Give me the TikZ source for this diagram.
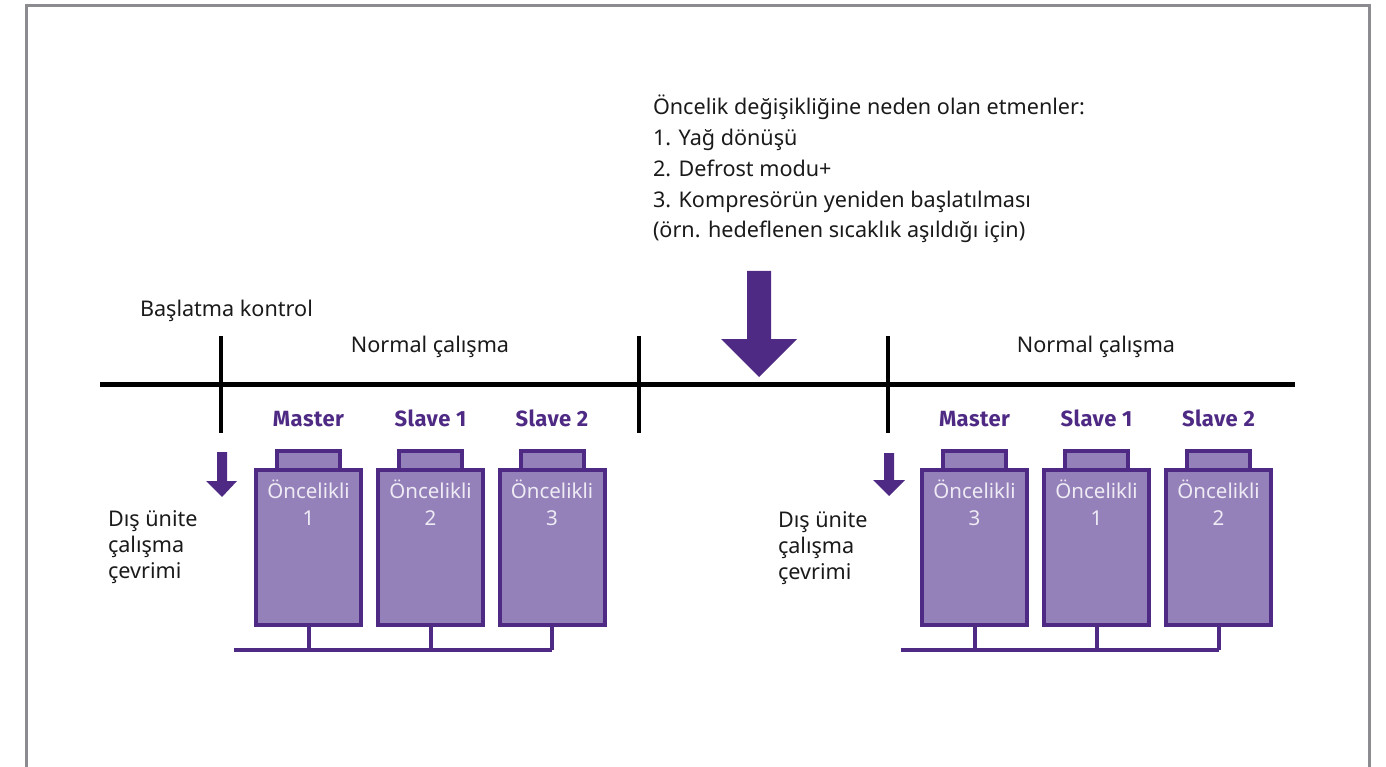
\documentclass[tikz,border=0pt]{standalone}
\usepackage{fontspec}
\setmainfont{Noto Sans}
\newfontfamily\rolefont{Fira Sans}[LetterSpace=2]
\definecolor{pdark}{HTML}{4E2A84}
\definecolor{pfill}{HTML}{9581B9}
\definecolor{framegray}{HTML}{8C8C90}
\definecolor{txt}{HTML}{1A1A1A}
\definecolor{wtxt}{HTML}{EEEBF5}
\begin{document}
\begin{tikzpicture}[x=1pt,y=-1pt,
  every node/.style={inner sep=0pt, outer sep=0pt},
  plain/.style={text=txt, font=\fontsize{21.6}{26}\selectfont},
  role/.style={text=pdark, font=\rolefont\bfseries\fontsize{22}{26}\selectfont, anchor=base},
  prio/.style={text=wtxt, font=\fontsize{20.5}{27}\selectfont, anchor=base},
  unitbody/.style={draw=pdark, fill=pfill, line width=4pt, minimum width=105pt, minimum height=155pt},
  unitcap/.style={draw=pdark, fill=pfill, line width=4pt},
  pipe/.style={draw=pdark, line width=4pt},
  tick/.style={draw=black, line width=4pt}
]
\useasboundingbox (0,0) rectangle (1386,767);
\draw[framegray, line width=3pt] (26,767) -- (26,6) -- (1369,6) -- (1369,767);

% top text
\node[plain, anchor=base west] (causes) at (653,115) {Öncelik değişikliğine neden olan etmenler:};
\node[plain, anchor=base west] (c1) at (653,145.7) {1. Yağ dönüşü};
\node[plain, anchor=base west] (c2) at (653,176.4) {2. Defrost modu+};
\node[plain, anchor=base west] (c3) at (653,207.1) {3. Kompresörün yeniden başlatılması};
\node[plain, anchor=base west] (c4) at (653,237.8) {(örn. hedeflenen sıcaklık aşıldığı için)};

% big arrow
\fill[pdark] (747,271) -- (771,271) -- (771,339) -- (797,339) -- (759,377) -- (721,339) -- (747,339) -- cycle;

% timeline
\coordinate (tlL) at (100,384);
\coordinate (tlR) at (1295,384);
\draw[black, line width=5pt] (tlL) -- (tlR);
\coordinate (k1a) at (221,336); \coordinate (k1b) at (221,433);
\coordinate (k2a) at (639,336); \coordinate (k2b) at (639,433);
\coordinate (k3a) at (888,336); \coordinate (k3b) at (888,433);
\draw[tick] (k1a) -- (k1b);
\draw[tick] (k2a) -- (k2b);
\draw[tick] (k3a) -- (k3b);

\node[plain, anchor=base west] (start) at (140,316) {Başlatma kontrol};
\node[plain, anchor=base] (norm1) at (430,352) {Normal çalışma};
\node[plain, anchor=base] (norm2) at (1096,352) {Normal çalışma};

% small arrows
\fill[pdark] (217,452) -- (227,452) -- (227,481) -- (237,481) -- (222,497) -- (206,481) -- (217,481) -- cycle;
\fill[pdark] (884,453) -- (894,453) -- (894,480) -- (905,480) -- (889,496) -- (873,480) -- (884,480) -- cycle;

\node[plain, anchor=base west] (cycLa) at (108,526) {Dış ünite};
\node[plain, anchor=base west] (cycLb) at (108,552) {çalışma};
\node[plain, anchor=base west] (cycLc) at (108,578) {çevrimi};
\node[plain, anchor=base west] (cycRa) at (778,527) {Dış ünite};
\node[plain, anchor=base west] (cycRb) at (778,553) {çalışma};
\node[plain, anchor=base west] (cycRc) at (778,579) {çevrimi};

% units
\foreach \n/\cx/\r/\p in {L1/308.5/Master/1, L2/430.5/Slave 1/2, L3/552/Slave 2/3,
                          R1/974.5/Master/3, R2/1096.5/Slave 1/1, R3/1218.5/Slave 2/2}{
  \node[role] (role\n) at (\cx,426) {\r};
  \draw[unitcap] (\cx-31.5,451) rectangle (\cx+31.5,470);
  \node[unitbody, anchor=north] (body\n) at (\cx,470) {};
  \node[prio] (pa\n) at (\cx,498) {Öncelikli};
  \node[prio] (pb\n) at (\cx,525) {\p};
  \coordinate (leg\n) at (\cx,650);
  \draw[pipe] (body\n.south) -- (leg\n);
}
\coordinate (busL) at (234,650);
\coordinate (busR) at (901,650);
\draw[pipe] (busL) -- (legL3);
\draw[pipe] (busR) -- (legR3);
\end{tikzpicture}
\end{document}
